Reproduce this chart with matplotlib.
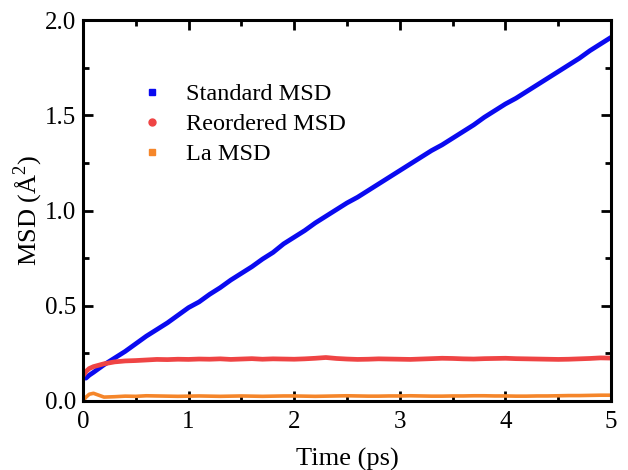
import matplotlib
matplotlib.use('Agg')
import matplotlib.pyplot as plt
from matplotlib.lines import Line2D
from matplotlib.ticker import MultipleLocator, FormatStrFormatter

# ─── Data (ps, Å^2) ──────────────────────────────────────────────────────────
time_ps = [0.0, 0.03, 0.06, 0.1, 0.2, 0.3, 0.4, 0.5, 0.6, 0.7, 0.8, 0.9,
           1.0, 1.1, 1.2, 1.3, 1.4, 1.5, 1.6, 1.7, 1.8, 1.9,
           2.0, 2.1, 2.2, 2.3, 2.4, 2.5, 2.6, 2.7, 2.8, 2.9,
           3.0, 3.1, 3.2, 3.3, 3.4, 3.5, 3.6, 3.7, 3.8, 3.9,
           4.0, 4.1, 4.2, 4.3, 4.4, 4.5, 4.6, 4.7, 4.8, 4.9, 5.0]

standard_msd = [0.12, 0.12, 0.135, 0.15, 0.19, 0.225, 0.26, 0.30, 0.34, 0.375, 0.41, 0.45,
                0.49, 0.52, 0.56, 0.595, 0.635, 0.67, 0.705, 0.745, 0.78, 0.825,
                0.86, 0.895, 0.935, 0.97, 1.005, 1.04, 1.07, 1.105, 1.14, 1.175,
                1.21, 1.245, 1.28, 1.315, 1.345, 1.38, 1.415, 1.45, 1.49, 1.525,
                1.56, 1.59, 1.625, 1.66, 1.695, 1.73, 1.765, 1.80, 1.84, 1.875, 1.91]

reordered_msd = [0.13, 0.155, 0.17, 0.18, 0.195, 0.205, 0.21, 0.212, 0.215, 0.218, 0.217, 0.219,
                 0.218, 0.220, 0.219, 0.221, 0.218, 0.220, 0.222, 0.219, 0.221, 0.220,
                 0.219, 0.221, 0.224, 0.228, 0.223, 0.220, 0.218, 0.219, 0.221, 0.220,
                 0.219, 0.218, 0.220, 0.222, 0.224, 0.223, 0.221, 0.220, 0.222, 0.223,
                 0.224, 0.222, 0.221, 0.220, 0.219, 0.218, 0.219, 0.221, 0.223, 0.226, 0.225]

la_msd = [0.0, 0.02, 0.035, 0.04, 0.02, 0.022, 0.025, 0.024, 0.027, 0.026, 0.025, 0.024,
          0.025, 0.026, 0.025, 0.024, 0.025, 0.026, 0.025, 0.024, 0.025, 0.026,
          0.026, 0.025, 0.024, 0.025, 0.026, 0.027, 0.026, 0.025, 0.025, 0.026,
          0.026, 0.027, 0.026, 0.025, 0.025, 0.026, 0.026, 0.027, 0.027, 0.026,
          0.026, 0.025, 0.025, 0.026, 0.026, 0.027, 0.028, 0.028, 0.029, 0.030, 0.030]

series = [
    (standard_msd,  '#0a0af0', 's', 'Standard MSD',  3.4),
    (reordered_msd, '#ef4444', 'o', 'Reordered MSD', 3.4),
    (la_msd,        '#f5862a', 's', 'La MSD',        2.6),
]

# ─── Figure ──────────────────────────────────────────────────────────────────
plt.rcParams['font.family'] = ['Liberation Serif', 'DejaVu Serif']
plt.rcParams['mathtext.fontset'] = 'custom'
plt.rcParams['mathtext.rm'] = 'Liberation Serif'

fig = plt.figure(figsize=(6.28, 4.70), dpi=100)
ax = fig.add_axes([0.132, 0.147, 0.841, 0.810])

handles = []
for y, color, mk, label, lw in series:
    ax.plot(time_ps, y, '-', color=color, lw=lw, solid_capstyle='round',
            solid_joinstyle='round')
    handles.append(Line2D([], [], linestyle='none', marker=mk, color=color,
                          markersize=5, label=label))

ax.set_xlim(0, 5)
ax.set_ylim(0, 2.0)
ax.xaxis.set_major_locator(MultipleLocator(1))
ax.xaxis.set_minor_locator(MultipleLocator(0.5))
ax.yaxis.set_major_locator(MultipleLocator(0.5))
ax.yaxis.set_minor_locator(MultipleLocator(0.25))
ax.yaxis.set_major_formatter(FormatStrFormatter('%.1f'))

ax.tick_params(which='both', direction='in', top=True, right=True,
               labelsize=18, width=2.0)
ax.tick_params(which='major', length=7, pad=5)
ax.tick_params(axis='x', which='major', pad=7)
ax.tick_params(which='minor', length=4)
for spine in ax.spines.values():
    spine.set_linewidth(2.2)

ax.set_xlabel('Time (ps)', fontsize=19, labelpad=11)
ax.set_ylabel('MSD (Å$^{2}$)', fontsize=19, labelpad=0)

ax.legend(handles=handles, loc='upper left', bbox_to_anchor=(0.089, 0.86),
          frameon=False, fontsize=17.5, handlelength=1.0, handletextpad=0.9,
          labelspacing=0.33, borderaxespad=0)

fig.savefig('out.png', dpi=100, facecolor='white')
plt.close(fig)
